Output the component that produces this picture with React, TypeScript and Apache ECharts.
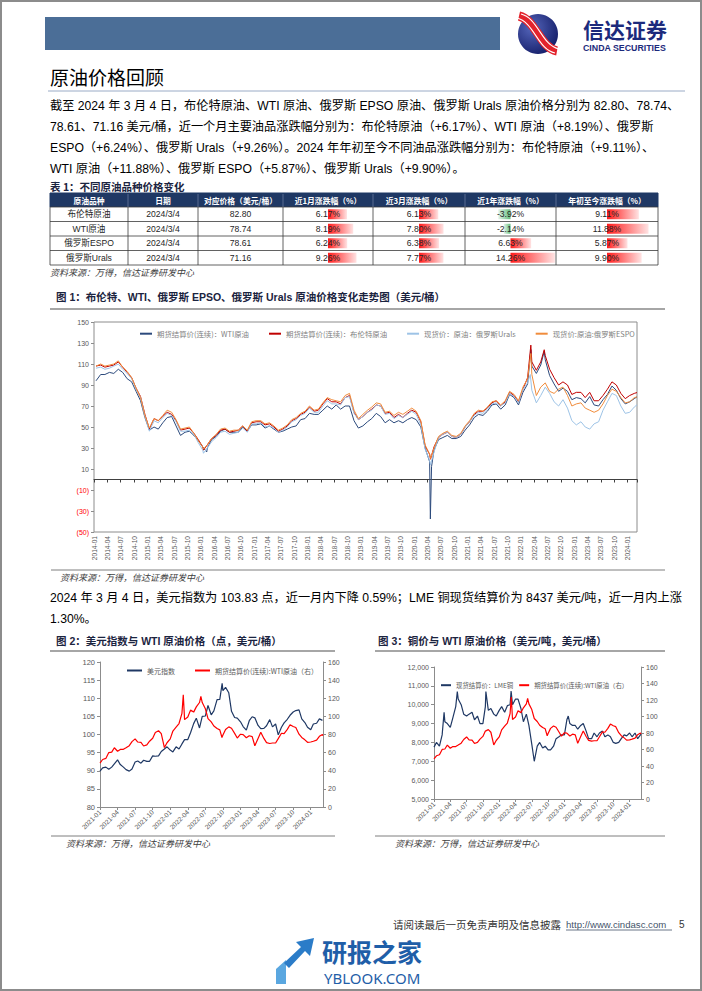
import React, { useEffect, useRef } from "react";
import * as echarts from "echarts";

const W = 702;
const H = 991;
const FONT = "'Liberation Sans', 'Noto Sans CJK SC', sans-serif";
const CJK = "'Noto Sans CJK SC', 'Liberation Sans', sans-serif";

// ---------------- Table 1 ----------------
const tableHeaders = ["原油品种", "日期", "对应价格（美元/桶）", "近1月涨跌幅（%）", "近3月涨跌幅（%）", "近1年涨跌幅（%）", "年初至今涨跌幅（%）"];
const oilNames = ["布伦特原油", "WTI原油", "俄罗斯ESPO", "俄罗斯Urals"];
const oilDates = ["2024/3/4", "2024/3/4", "2024/3/4", "2024/3/4"];
const oilPrices = ["82.80", "78.74", "78.61", "71.16"];
const chg1m = [6.17, 8.19, 6.24, 9.26];
const chg3m = [6.13, 7.8, 6.38, 7.77];
const chg1y = [-3.92, -2.14, 6.63, 14.26];
const chgYtd = [9.11, 11.88, 5.87, 9.9];

// ---------------- Chart 1 (monthly, 2014-01 .. 2024-03) ----------------
const c1Names = ["期货结算价(连续)：WTI原油", "期货结算价(连续)：布伦特原油", "现货价：原油：俄罗斯Urals", "现货价:原油:俄罗斯ESPO"];
const wtiMonthly = [
  94, 100, 100, 102, 101, 105, 102, 96, 93, 84, 75, 59,
  47, 50, 48, 54, 59, 60, 51, 42, 45, 46, 42, 37,
  31, 30, 38, 41, 46, 48, 45, 45, 45, 50, 46, 52,
  52, 53, 49, 51, 48, 45, 46, 48, 50, 51, 57, 58,
  63, 62, 62, 66, 70, 67, 71, 67, 70, 70, 56, 49,
  51, 55, 58, 63, 60, 54, 57, 54, 56, 54, 57, 59,
  57, 50, 30, 17, 28, 38, 40, 42, 39, 39, 41, 47,
  52, 59, 62, 61, 65, 71, 72, 67, 71, 81, 78, 71,
  83, 91, 108, 101, 109, 114, 99, 91, 84, 87, 84, 76,
  78, 77, 73, 79, 71, 70, 76, 81, 89, 85, 77, 72,
  74, 77, 78.74,
];
const brentMonthly = [
  108, 109, 107, 108, 109, 112, 107, 102, 97, 87, 79, 62,
  48, 58, 56, 60, 64, 62, 56, 47, 48, 49, 44, 38,
  31, 33, 39, 42, 47, 48, 45, 46, 47, 51, 46, 54,
  55, 55, 52, 53, 50, 46, 48, 51, 56, 58, 62, 64,
  69, 65, 66, 72, 77, 74, 74, 72, 78, 80, 64, 57,
  60, 64, 67, 71, 70, 63, 64, 59, 62, 59, 63, 66,
  64, 55, 32, 24, 31, 40, 43, 45, 41, 40, 43, 50,
  55, 62, 65, 65, 68, 73, 75, 70, 74, 83, 80, 74,
  86, 97, 112, 104, 112, 118, 105, 97, 90, 93, 90, 81,
  83, 83, 78, 83, 75, 75, 80, 86, 93, 90, 82, 77,
  80, 82, 82.8,
];
const uralsMonthly = [
  106, 107, 105, 106, 108, 110, 105, 101, 96, 86, 78, 60,
  46, 56, 54, 59, 63, 61, 55, 46, 46, 47, 43, 35,
  28, 30, 36, 40, 45, 46, 43, 44, 45, 49, 45, 53,
  53, 54, 50, 51, 49, 45, 47, 50, 55, 57, 61, 63,
  68, 64, 64, 70, 75, 72, 72, 71, 78, 79, 63, 57,
  60, 64, 66, 71, 70, 62, 63, 58, 61, 59, 62, 65,
  62, 52, 29, 18, 26, 40, 43, 45, 41, 40, 43, 50,
  55, 61, 64, 63, 67, 72, 73, 70, 73, 82, 79, 73,
  86, 92, 85, 73, 80, 88, 82, 74, 70, 76, 68, 56,
  52, 55, 50, 48, 53, 55, 66, 74, 82, 80, 70, 63,
  64, 69, 71.16,
];
const espoMonthly = [
  108, 110, 108, 109, 110, 113, 107, 103, 97, 87, 78, 61,
  49, 58, 56, 61, 66, 64, 57, 48, 49, 50, 44, 37,
  31, 33, 39, 43, 48, 49, 46, 47, 47, 51, 47, 55,
  56, 56, 53, 54, 51, 47, 49, 52, 57, 59, 63, 65,
  70, 66, 67, 73, 78, 76, 75, 74, 80, 82, 66, 58,
  62, 66, 69, 73, 72, 64, 65, 61, 64, 62, 65, 68,
  65, 56, 33, 24, 30, 41, 44, 46, 42, 41, 44, 51,
  56, 63, 66, 65, 69, 74, 75, 71, 75, 84, 81, 75,
  88, 96, 100, 80, 88, 92, 84, 82, 86, 88, 80, 70,
  72, 73, 68, 66, 64, 66, 72, 80, 86, 84, 78, 73,
  74, 78, 78.61,
];
const wtiSpikes: [string, number][] = [["2016-02-11", 26.2], ["2020-04-20", -37.6], ["2020-04-28", 12.3], ["2022-03-08", 123.7], ["2022-06-08", 122.1]];
const brentSpikes: [string, number][] = [["2016-01-20", 27.9], ["2020-04-21", 19.3], ["2022-03-08", 128.0], ["2022-06-08", 123.6]];
const uralsSpikes: [string, number][] = [["2016-01-20", 25.0], ["2020-04-21", 14.0], ["2022-03-04", 100.0]];
const espoSpikes: [string, number][] = [["2016-01-20", 29.0], ["2020-04-21", 20.0], ["2022-03-08", 120.0]];

// ---------------- Charts 2 & 3 (semi-monthly, 2021-01 .. 2024-03-04) ----------------
const dxyHalf = [
  89.9, 90.8, 91.0, 90.4, 91.0, 91.9, 93.0, 91.7, 91.0, 90.3, 89.9, 90.5, 92.4, 92.7, 92.1, 92.9, 92.6, 92.6, 94.1, 94.0, 94.1, 95.3, 96.0, 96.6,
  95.7, 95.2, 96.6, 96.0, 97.4, 98.6, 98.6, 100.5, 103.0, 104.5, 101.8, 105.0, 105.1, 108.0, 105.4, 106.5, 109.6, 109.7, 112.1, 113.0, 111.5, 106.4, 104.7, 104.5,
  103.5, 102.2, 101.2, 103.8, 104.9, 104.6, 102.5, 101.6, 101.7, 102.4, 104.1, 102.1, 102.9, 99.9, 102.0, 103.2, 104.2, 105.3, 106.2, 106.6, 106.8, 104.3, 103.3, 102.0,
  101.3, 102.9, 103.1, 104.3, 103.9, 103.83,
];
const dxySpikes: [string, number][] = [["2022-09-27", 114.1]];
const wtiHalf = [
  48.5, 52.4, 53.6, 60.1, 60.6, 65.4, 61.5, 63.5, 63.6, 65.4, 67.7, 72.1, 75.2, 71.7, 71.3, 67.3, 68.6, 72.6, 75.9, 82.3, 84.1, 80.9, 65.6, 70.9,
  75.2, 83.8, 88.2, 92.1, 103.4, 96.4, 99.3, 106.9, 104.7, 110.5, 115.3, 115.3, 108.4, 97.6, 93.9, 89.4, 86.6, 85.1, 79.5, 85.6, 88.4, 86.9, 81.2, 76.1,
  80.3, 79.9, 76.4, 78.6, 77.7, 67.6, 75.7, 82.5, 75.7, 71.1, 70.1, 70.6, 70.6, 75.4, 81.4, 80.9, 85.6, 90.8, 88.8, 87.7, 80.4, 76.7, 74.1, 71.4,
  71.7, 72.6, 73.8, 78.0, 79.97, 78.74,
];
const wtiHalfSpikes: [string, number][] = [["2022-03-08", 123.7], ["2022-06-08", 122.1], ["2022-09-26", 76.7]];
const copperHalf = [
  7750, 8000, 7800, 8400, 9100, 9000, 8800, 9300, 9900, 10300, 10000, 9500, 9400, 9500, 9600, 9200, 9400, 9000, 9000, 9900, 9700, 9800, 9500, 9400,
  9700, 9900, 9600, 9950, 10000, 10000, 10300, 10300, 9800, 9100, 9500, 8900, 7900, 7000, 7800, 8000, 7700, 7800, 7600, 7600, 7800, 8200, 8300, 8400,
  8400, 9200, 9000, 8900, 8900, 8700, 8900, 9000, 8600, 8200, 8200, 8500, 8300, 8500, 8600, 8300, 8400, 8300, 8000, 7950, 8000, 8200, 8400, 8350,
  8500, 8300, 8500, 8200, 8400, 8437,
];
const copperSpikes: [string, number][] = [["2021-02-25", 9600], ["2021-05-10", 10700], ["2021-10-18", 10700], ["2022-03-07", 10730], ["2023-01-23", 9400]];

// ---------------- helpers ----------------
const pad2 = (n: number) => (n < 10 ? "0" + n : "" + n);

function monthIndex(date: string, y0: number): number {
  const [y, m, d] = date.split("-").map(Number);
  const dim = new Date(y, m, 0).getDate();
  return (y - y0) * 12 + (m - 1) + (d - 1) / dim;
}

function monthlyDates(y0: number, y1: number, m1: number, lastDay: number): string[] {
  const out: string[] = [];
  let y = y0, m = 1;
  while (y < y1 || (y === y1 && m <= m1)) {
    const last = y === y1 && m === m1;
    out.push(`${y}-${pad2(m)}-${last ? pad2(lastDay) : "15"}`);
    m++;
    if (m > 12) { m = 1; y++; }
  }
  return out;
}

function halfMonthlyDates(y0: number, y1: number, m1: number, lastDay: number): string[] {
  const out: string[] = [];
  let y = y0, m = 1;
  while (y < y1 || (y === y1 && m < m1)) {
    out.push(`${y}-${pad2(m)}-01`, `${y}-${pad2(m)}-15`);
    m++;
    if (m > 12) { m = 1; y++; }
  }
  out.push(`${y1}-${pad2(m1)}-01`, `${y1}-${pad2(m1)}-${pad2(lastDay)}`);
  return out;
}

function buildSeries(dates: string[], values: number[], spikes: [string, number][], y0: number) {
  const pts: number[][] = dates.map((d, i) => [monthIndex(d, y0), values[i]]);
  spikes.forEach(([d, v]) => pts.push([monthIndex(d, y0), v]));
  pts.sort((a, b) => a[0] - b[0]);
  return pts;
}

const monthLabel = (y0: number) => (v: number) => {
  const k = Math.round(v);
  return `${y0 + Math.floor(k / 12)}-${pad2((k % 12) + 1)}`;
};

// ---------------- layout ----------------
const tblX = [50, 128, 198, 283, 373, 465, 556, 658];
const tblTop = 193;
const headH = 14;
const rowH = 14.5;

function buildGraphics() {
  const els: any[] = [];
  const T = (x: number, y: number, text: string, o: any = {}) =>
    els.push({
      type: "text", x, y, z: 100, silent: true,
      style: {
        text, fill: o.fill ?? "#000", fontSize: o.size ?? 12, fontFamily: o.family ?? FONT,
        fontWeight: o.weight ?? "normal", fontStyle: o.fstyle ?? "normal",
        align: o.align ?? "left", verticalAlign: "middle",
      },
    });
  const L = (x1: number, y1: number, x2: number, y2: number, stroke: string, lw = 1, z = 100) =>
    els.push({ type: "line", z, silent: true, shape: { x1, y1, x2, y2 }, style: { stroke, lineWidth: lw } });
  const R = (x: number, y: number, w: number, h: number, fill: string, z = 1) =>
    els.push({ type: "rect", z, silent: true, shape: { x, y, width: w, height: h }, style: { fill } });

  // header band + logo
  R(45, 17, 455, 33, "#4b6e97");
  els.push({
    type: "circle", z: 5, silent: true, shape: { cx: 538, cy: 34, r: 20 },
    style: { fill: new echarts.graphic.RadialGradient(0.35, 0.35, 0.75, [{ offset: 0, color: "#5566bb" }, { offset: 1, color: "#121b66" }]) },
  });
  els.push({ type: "bezierCurve", z: 6, silent: true, shape: { x1: 519, y1: 16, cpx1: 536, cpy1: 20, cpx2: 540, cpy2: 48, x2: 557, y2: 51 }, style: { stroke: "#e3232c", lineWidth: 9, fill: "none" } });
  els.push({ type: "bezierCurve", z: 7, silent: true, shape: { x1: 517, y1: 18, cpx1: 534, cpy1: 22, cpx2: 538, cpy2: 50, x2: 555, y2: 53 }, style: { stroke: "#ffffff", lineWidth: 1.1, fill: "none" } });
  els.push({ type: "bezierCurve", z: 7, silent: true, shape: { x1: 521, y1: 14, cpx1: 538, cpy1: 18, cpx2: 542, cpy2: 46, x2: 559, y2: 49 }, style: { stroke: "#ffffff", lineWidth: 1.1, fill: "none" } });
  T(583, 28.5, "信达证券", { size: 21, weight: "bold", fill: "#1c2a7c", family: CJK });
  T(583, 47.8, "CINDA SECURITIES", { size: 8.8, weight: "bold", fill: "#1c2a7c" });

  // section title
  T(50, 76, "原油价格回顾", { size: 19, family: CJK });
  L(48, 91, 685, 91, "#9aabc6", 1);

  // paragraph 1
  const p1 = [
    "截至 2024 年 3 月 4 日，布伦特原油、WTI 原油、俄罗斯 EPSO 原油、俄罗斯 Urals 原油价格分别为 82.80、78.74、",
    "78.61、71.16 美元/桶，近一个月主要油品涨跌幅分别为：布伦特原油（+6.17%）、WTI 原油（+8.19%）、俄罗斯",
    "ESPO（+6.24%）、俄罗斯 Urals（+9.26%）。2024 年年初至今不同油品涨跌幅分别为：布伦特原油（+9.11%）、",
    "WTI 原油（+11.88%）、俄罗斯 ESPO（+5.87%）、俄罗斯 Urals（+9.90%）。",
  ];
  p1.forEach((s, i) => T(50, 106 + i * 21, s, { size: 12.2 }));

  // table 1
  T(50, 186, "表 1：不同原油品种价格变化", { size: 10.5, weight: "bold", fill: "#1b2440", family: CJK });
  R(tblX[0], tblTop, tblX[7] - tblX[0], headH, "#1f3864");
  tableHeaders.forEach((h, i) => T((tblX[i] + tblX[i + 1]) / 2, tblTop + headH / 2, h, { size: 7.8, weight: "bold", fill: "#ffffff", align: "center", family: CJK }));
  const bodyTop = tblTop + headH;
  const cols: string[][] = [
    oilNames, oilDates, oilPrices,
    chg1m.map((v) => v.toFixed(2) + "%"), chg3m.map((v) => v.toFixed(2) + "%"),
    chg1y.map((v) => v.toFixed(2) + "%"), chgYtd.map((v) => v.toFixed(2) + "%"),
  ];
  cols.forEach((col, c) => col.forEach((s, r) => T((tblX[c] + tblX[c + 1]) / 2, bodyTop + rowH * r + rowH / 2, s, { size: 8.6, fill: "#262626", align: "center" })));
  for (let r = 0; r <= 4; r++) L(tblX[0], bodyTop + rowH * r, tblX[7], bodyTop + rowH * r, "#3a3a3a", 0.8);
  tblX.forEach((x, i) => {
    if (i > 0 && i < 7) L(x, tblTop + 1, x, bodyTop, "#7f8fb0", 0.6);
    L(x, bodyTop, x, bodyTop + rowH * 4, "#3a3a3a", 0.8);
  });
  L(tblX[0], tblTop, tblX[7], tblTop, "#1f3864", 1);
  L(tblX[0], tblTop, tblX[0], bodyTop, "#1f3864", 1);
  L(tblX[7], tblTop, tblX[7], bodyTop, "#1f3864", 1);
  T(50, 272, "资料来源：万得，信达证券研发中心", { size: 9, fill: "#404040", fstyle: "italic", family: CJK });

  // figure 1 title
  T(56, 297, "图 1：布伦特、WTI、俄罗斯 EPSO、俄罗斯 Urals 原油价格变化走势图（美元/桶）", { size: 10.5, weight: "bold", fill: "#1b2440" });
  L(50, 309, 665, 309, "#a6a6a6", 2);
  L(51, 570, 665, 570, "#7f7f7f", 1);
  T(60, 577, "资料来源：万得，信达证券研发中心", { size: 9, fill: "#404040", fstyle: "italic", family: CJK });

  // paragraph 2
  T(50, 598, "2024 年 3 月 4 日，美元指数为 103.83 点，近一月内下降 0.59%；LME 铜现货结算价为 8437 美元/吨，近一月内上涨", { size: 12.2 });
  T(50, 619, "1.30%。", { size: 12.2 });

  // figure 2 & 3 titles
  T(56, 641, "图 2：美元指数与 WTI 原油价格（点，美元/桶）", { size: 10.5, weight: "bold", fill: "#1b2440" });
  L(50, 651, 335, 651, "#a6a6a6", 2);
  T(378, 641, "图 3：铜价与 WTI 原油价格（美元/吨，美元/桶）", { size: 10.5, weight: "bold", fill: "#1b2440" });
  L(375, 651, 665, 651, "#a6a6a6", 2);
  L(51, 836, 335, 836, "#7f7f7f", 1);
  L(375, 836, 665, 836, "#7f7f7f", 1);
  T(66, 843, "资料来源：万得，信达证券研发中心", { size: 9, fill: "#404040", fstyle: "italic", family: CJK });
  T(395, 843, "资料来源：万得，信达证券研发中心", { size: 9, fill: "#404040", fstyle: "italic", family: CJK });

  // footer
  T(393, 924, "请阅读最后一页免责声明及信息披露", { size: 10.5, fill: "#333333", family: CJK });
  T(566, 924, "http://www.cindasc.com", { size: 9.6, fill: "#44546a" });
  L(566, 930, 672, 930, "#44546a", 0.8);
  T(679, 924, "5", { size: 10, fill: "#333333" });

  // watermark
  els.push({ type: "polygon", z: 5, silent: true, shape: { points: [[276, 984], [276, 969], [286, 960], [286, 984]] }, style: { fill: "#5aa7e0" } });
  els.push({ type: "polygon", z: 5, silent: true, shape: { points: [[284, 963], [301, 947], [296, 942], [314, 938], [310, 956], [305, 951], [289, 968]] }, style: { fill: "#2b7cc8" } });
  T(322, 951, "研报之家", { size: 25, weight: "bold", fill: "#1f5ea8", family: CJK });
  T(324, 977.5, "YBLOOK.COM", { size: 15, fill: "#1f5ea8", family: "'Noto Sans', sans-serif" });

  // page frame
  els.push({ type: "rect", z: 200, silent: true, shape: { x: 1, y: 1, width: W - 2, height: H - 2 }, style: { fill: "none", stroke: "#8c8c8c", lineWidth: 2 } });
  return els;
}

function buildOption() {
  const x1Max = monthIndex("2024-03-04", 2014);
  const x2Max = monthIndex("2024-03-04", 2021);
  const d1 = monthlyDates(2014, 2024, 3, 4);
  const d2 = halfMonthlyDates(2021, 2024, 3, 4);

  const axisGray = "#8c8c8c";
  const labelGray = "#595959";
  const pctCols = [chg1m, chg3m, chg1y, chgYtd];
  const M = 14.3;

  const barGrad = (v: number) =>
    v >= 0
      ? new echarts.graphic.LinearGradient(0, 0, 1, 0, [{ offset: 0, color: "#ff1a1a" }, { offset: 1, color: "#ffe3e3" }])
      : new echarts.graphic.LinearGradient(0, 0, 1, 0, [{ offset: 0, color: "#e4f3e8" }, { offset: 1, color: "#63be7b" }]);

  const lineS = (name: string, data: number[][], color: string, xi: number, yi: number, width = 1) => ({
    type: "line", name, data, xAxisIndex: xi, yAxisIndex: yi, showSymbol: false, symbol: "none",
    lineStyle: { color, width }, itemStyle: { color }, silent: true,
  });

  const dateAxis = (gridIndex: number, max: number, y0: number, rotate: number, extra: any = {}) => ({
    gridIndex, type: "value", min: 0, max, interval: 3, position: "bottom",
    splitLine: { show: false },
    axisLabel: { rotate, fontSize: 6.6, color: labelGray, margin: 4, showMaxLabel: false, formatter: monthLabel(y0), fontFamily: FONT },
    ...extra,
  });

  return {
    animation: false,
    backgroundColor: "#ffffff",
    textStyle: { fontFamily: FONT },
    grid: [
      { left: 94, top: 322, width: 543, height: 210, show: true, borderColor: axisGray, borderWidth: 1 },
      { left: 100, top: 662, width: 223, height: 145 },
      { left: 434, top: 667, width: 207, height: 132 },
      ...[3, 4, 5, 6].map((c) => ({ left: tblX[c] + 1, top: tblTop + headH, width: tblX[c + 1] - tblX[c] - 2, height: rowH * 4 })),
    ],
    xAxis: [
      dateAxis(0, x1Max, 2014, 90, { axisLine: { show: false, onZero: false }, axisTick: { show: false } }),
      {
        gridIndex: 0, type: "value", min: 0, max: x1Max, interval: 3, position: "bottom",
        axisLine: { show: true, onZero: true, onZeroAxisIndex: 0, lineStyle: { color: "#404040", width: 1 } },
        axisTick: { show: true, length: 3, lineStyle: { color: "#404040" } },
        axisLabel: { show: false }, splitLine: { show: false },
      },
      dateAxis(1, x2Max, 2021, 45, { axisLine: { show: true, onZero: false, lineStyle: { color: axisGray } }, axisTick: { show: true, length: 3, lineStyle: { color: axisGray } } }),
      dateAxis(2, x2Max, 2021, 45, { axisLine: { show: true, onZero: false, lineStyle: { color: axisGray } }, axisTick: { show: true, length: 3, lineStyle: { color: axisGray } } }),
      ...[3, 4, 5, 6].map((g) => ({ gridIndex: g, type: "value", min: -M, max: M, show: false })),
    ],
    yAxis: [
      {
        gridIndex: 0, type: "value", min: -50, max: 150, interval: 20,
        axisLine: { show: false }, splitLine: { show: false },
        axisTick: { show: true, length: 3, lineStyle: { color: axisGray } },
        axisLabel: {
          fontSize: 7, margin: 5, fontFamily: FONT,
          color: (v: any) => (Number(v) < 0 ? "#ff0000" : labelGray),
          formatter: (v: number) => (v < 0 ? `(${-v})` : `${v}`),
        },
      },
      {
        gridIndex: 1, type: "value", min: 80, max: 120, interval: 5, position: "left",
        axisLine: { show: true, lineStyle: { color: axisGray } }, splitLine: { show: false },
        axisTick: { show: true, length: 3, lineStyle: { color: axisGray } },
        axisLabel: { fontSize: 7.5, color: labelGray, margin: 5 },
      },
      {
        gridIndex: 1, type: "value", min: 0, max: 160, interval: 20, position: "right",
        axisLine: { show: true, lineStyle: { color: axisGray } }, splitLine: { show: false },
        axisTick: { show: true, length: 3, lineStyle: { color: axisGray } },
        axisLabel: { fontSize: 7, color: labelGray, margin: 5 },
      },
      {
        gridIndex: 2, type: "value", min: 5000, max: 12000, interval: 1000, position: "left",
        axisLine: { show: true, lineStyle: { color: axisGray } }, splitLine: { show: false },
        axisTick: { show: true, length: 3, lineStyle: { color: axisGray } },
        axisLabel: { fontSize: 7, color: labelGray, margin: 5, formatter: (v: number) => v.toLocaleString("en-US") },
      },
      {
        gridIndex: 2, type: "value", min: 0, max: 160, interval: 20, position: "right",
        axisLine: { show: true, lineStyle: { color: axisGray } }, splitLine: { show: false },
        axisTick: { show: true, length: 3, lineStyle: { color: axisGray } },
        axisLabel: { fontSize: 7, color: labelGray, margin: 5 },
      },
      ...[3, 4, 5, 6].map((g) => ({ gridIndex: g, type: "category", data: ["0", "1", "2", "3"], inverse: true, show: false })),
    ],
    legend: [
      {
        left: 135, top: 325, itemWidth: 12, itemHeight: 2, itemGap: 20, icon: "rect", selectedMode: false,
        textStyle: { fontSize: 7.4, color: "#7f7f7f", fontFamily: CJK }, data: c1Names,
      },
      {
        left: 122, top: 662, itemWidth: 15, itemHeight: 2, itemGap: 20, icon: "rect", selectedMode: false,
        textStyle: { fontSize: 7, color: "#595959", fontFamily: CJK }, data: ["美元指数", "期货结算价(连续):WTI原油（右）"],
      },
      {
        left: 436, top: 677, itemWidth: 10, itemHeight: 2, itemGap: 6, icon: "rect", selectedMode: false,
        textStyle: { fontSize: 6.4, color: "#595959", fontFamily: CJK }, data: ["现货结算价：LME铜", "期货结算价(连续):WTI原油（右）"],
      },
    ],
    series: [
      lineS(c1Names[0], buildSeries(d1, wtiMonthly, wtiSpikes, 2014), "#2c4a7c", 0, 0),
      lineS(c1Names[1], buildSeries(d1, brentMonthly, brentSpikes, 2014), "#c00000", 0, 0),
      lineS(c1Names[2], buildSeries(d1, uralsMonthly, uralsSpikes, 2014), "#9dc3e6", 0, 0),
      lineS(c1Names[3], buildSeries(d1, espoMonthly, espoSpikes, 2014), "#f08c3c", 0, 0),
      lineS("美元指数", buildSeries(d2, dxyHalf, dxySpikes, 2021), "#1f3864", 2, 1, 1.2),
      lineS("期货结算价(连续):WTI原油（右）", buildSeries(d2, wtiHalf, wtiHalfSpikes, 2021), "#ff0000", 2, 2, 1.2),
      lineS("现货结算价：LME铜", buildSeries(d2, copperHalf, copperSpikes, 2021), "#1f3864", 3, 3, 1.2),
      lineS("期货结算价(连续):WTI原油（右）", buildSeries(d2, wtiHalf, wtiHalfSpikes, 2021), "#ff0000", 3, 4, 1.2),
      ...pctCols.map((vals, k) => ({
        type: "bar", name: "bar" + k, xAxisIndex: 4 + k, yAxisIndex: 5 + k, barWidth: 10, silent: true, z: 2,
        data: vals.map((v) => ({ value: v, itemStyle: { color: barGrad(v) } })),
      })),
    ],
    graphic: { elements: buildGraphics() },
  };
}

export default function App() {
  const ref = useRef<HTMLDivElement>(null);
  useEffect(() => {
    document.body.style.margin = "0";
    const chart = echarts.init(ref.current as HTMLDivElement, null, { renderer: "svg", width: W, height: H });
    chart.setOption(buildOption() as any);
    return () => chart.dispose();
  }, []);
  return <div ref={ref} style={{ position: "absolute", left: 0, top: 0, width: W, height: H, background: "#fff" }} />;
}
